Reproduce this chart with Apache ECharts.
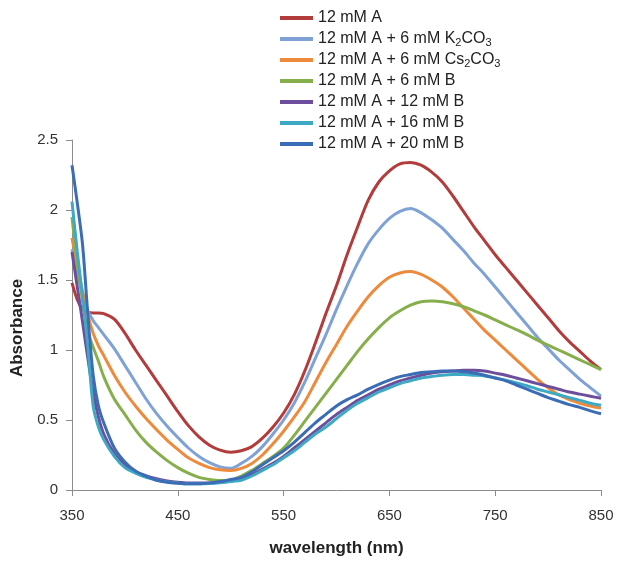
<!DOCTYPE html>
<html>
<head>
<meta charset="utf-8">
<script src="https://cdn.jsdelivr.net/npm/echarts@6/dist/echarts.min.js"></script>
<style>html,body{margin:0;padding:0;background:#fff}#c{width:624px;height:571px}</style>
</head>
<body>
<div id="c"></div>
<script>
var wavelengths = [350,355,360,365,370,375,380,390,400,410,420,430,440,450,460,470,480,490,500,510,520,530,540,550,560,570,580,590,600,610,620,630,640,650,660,670,680,690,700,710,720,730,740,750,760,770,780,790,800,810,820,830,840,850];

var seriesNames = ["12 mM A","12 mM A + 6 mM K2CO3","12 mM A + 6 mM Cs2CO3","12 mM A + 6 mM B","12 mM A + 12 mM B","12 mM A + 16 mM B","12 mM A + 20 mM B"];

var a12 = [1.48,1.36,1.29,1.27,1.265,1.265,1.26,1.22,1.12,1.00,0.89,0.78,0.67,0.56,0.46,0.38,0.32,0.285,0.27,0.28,0.31,0.37,0.45,0.55,0.68,0.85,1.05,1.26,1.46,1.68,1.88,2.07,2.20,2.28,2.33,2.34,2.32,2.27,2.20,2.10,1.99,1.88,1.78,1.68,1.59,1.50,1.41,1.32,1.23,1.14,1.06,0.99,0.92,0.86];
var aK2CO3 = [1.72,1.55,1.40,1.28,1.21,1.16,1.11,1.01,0.89,0.77,0.65,0.545,0.455,0.375,0.30,0.24,0.195,0.165,0.155,0.19,0.24,0.31,0.40,0.50,0.62,0.77,0.94,1.11,1.29,1.46,1.62,1.76,1.86,1.94,1.99,2.01,1.98,1.93,1.87,1.79,1.71,1.62,1.54,1.45,1.36,1.27,1.18,1.09,1.01,0.93,0.86,0.79,0.73,0.67];
var aCs2CO3 = [1.80,1.60,1.42,1.25,1.12,1.03,0.96,0.82,0.70,0.60,0.51,0.43,0.355,0.29,0.23,0.19,0.16,0.145,0.14,0.155,0.19,0.25,0.33,0.42,0.52,0.63,0.77,0.91,1.04,1.17,1.28,1.38,1.46,1.52,1.55,1.56,1.54,1.50,1.45,1.38,1.30,1.22,1.14,1.07,1.00,0.93,0.86,0.79,0.73,0.68,0.645,0.62,0.60,0.585];
var aB6 = [1.95,1.62,1.35,1.13,1.02,0.92,0.81,0.65,0.54,0.43,0.34,0.27,0.21,0.16,0.12,0.09,0.075,0.067,0.07,0.10,0.14,0.19,0.24,0.30,0.39,0.49,0.59,0.69,0.79,0.89,0.99,1.08,1.16,1.23,1.28,1.32,1.345,1.35,1.345,1.33,1.31,1.28,1.25,1.215,1.18,1.145,1.11,1.07,1.035,1.00,0.965,0.93,0.895,0.86];
var aB12 = [1.70,1.45,1.20,0.94,0.70,0.52,0.40,0.26,0.18,0.13,0.10,0.08,0.065,0.055,0.05,0.05,0.05,0.055,0.065,0.08,0.11,0.15,0.19,0.24,0.30,0.36,0.42,0.48,0.54,0.59,0.64,0.68,0.72,0.75,0.78,0.80,0.82,0.835,0.845,0.85,0.855,0.855,0.85,0.835,0.82,0.80,0.78,0.76,0.74,0.72,0.70,0.685,0.67,0.655];
var aB16 = [2.06,1.70,1.38,1.02,0.60,0.45,0.36,0.24,0.16,0.12,0.09,0.072,0.058,0.05,0.045,0.045,0.047,0.052,0.06,0.07,0.10,0.14,0.18,0.23,0.28,0.34,0.40,0.45,0.51,0.57,0.62,0.66,0.70,0.73,0.76,0.78,0.80,0.81,0.82,0.825,0.825,0.82,0.815,0.80,0.785,0.765,0.745,0.72,0.70,0.68,0.66,0.64,0.62,0.605];
var aB20 = [2.32,2.05,1.75,1.25,0.82,0.60,0.48,0.30,0.20,0.135,0.10,0.07,0.055,0.048,0.044,0.044,0.05,0.06,0.075,0.09,0.13,0.18,0.23,0.28,0.34,0.41,0.48,0.54,0.60,0.645,0.68,0.72,0.755,0.785,0.81,0.825,0.84,0.845,0.85,0.85,0.845,0.835,0.82,0.80,0.78,0.75,0.72,0.69,0.66,0.635,0.61,0.59,0.565,0.545];

var xTicks = [350,450,550,650,750,850];
var yTicks = [0,0.5,1,1.5,2,2.5];

var colors = ["#B23C3B","#7FA2D6","#EE8A3C","#86AF4C","#6C4E9C","#3EA9C5","#3B6CB6"];
var allData = [a12,aK2CO3,aCs2CO3,aB6,aB12,aB16,aB20];

function pairs(arr){ return wavelengths.map(function(w,i){ return [w, arr[i]]; }); }

var legendLabels = {
  "12 mM A": "12 mM A",
  "12 mM A + 6 mM K2CO3": "12 mM A + 6 mM K{s|2}CO{s|3}",
  "12 mM A + 6 mM Cs2CO3": "12 mM A + 6 mM Cs{s|2}CO{s|3}",
  "12 mM A + 6 mM B": "12 mM A + 6 mM B",
  "12 mM A + 12 mM B": "12 mM A + 12 mM B",
  "12 mM A + 16 mM B": "12 mM A + 16 mM B",
  "12 mM A + 20 mM B": "12 mM A + 20 mM B"
};

var chart = echarts.init(document.getElementById('c'), null, {renderer:'canvas'});
var font = "Liberation Sans";
chart.setOption({
  animation: false,
  backgroundColor: '#ffffff',
  grid: {left: 72, right: 23, top: 140, bottom: 81},
  legend: {
    orient: 'vertical', left: 275, top: 4, itemGap: 3,
    icon: 'rect', itemWidth: 33, itemHeight: 4,
    data: seriesNames,
    formatter: function(n){ return legendLabels[n]; },
    textStyle: {fontFamily: font, fontSize: 16, color: '#222', lineHeight: 18,
      rich: {s: {fontFamily: font, fontSize: 11, color: '#222', verticalAlign: 'bottom', lineHeight: 18, padding: [7,0,0,0]}}}
  },
  xAxis: {
    type: 'value', min: 350, max: 850, interval: 100,
    name: 'wavelength (nm)', nameLocation: 'middle', nameGap: 50,
    nameTextStyle: {fontFamily: font, fontSize: 17, fontWeight: 'bold', color: '#222'},
    axisLine: {lineStyle: {color: '#8c8c8c', width: 1}},
    axisTick: {show: true, length: 6, lineStyle: {color: '#8c8c8c'}},
    axisLabel: {fontFamily: font, fontSize: 15, color: '#333', margin: 18},
    splitLine: {show: false}
  },
  yAxis: {
    type: 'value', min: 0, max: 2.5, interval: 0.5,
    name: 'Absorbance', nameLocation: 'middle', nameGap: 40, nameRotate: 90,
    nameTextStyle: {fontFamily: font, fontSize: 17, fontWeight: 'bold', color: '#222', padding: [0,26,0,0]},
    axisLine: {show: true, lineStyle: {color: '#8c8c8c', width: 1}},
    axisTick: {show: true, length: 6, lineStyle: {color: '#8c8c8c'}},
    axisLabel: {fontFamily: font, fontSize: 15, color: '#333', margin: 14,
      formatter: function(v){ return String(v); }},
    splitLine: {show: false}
  },
  series: seriesNames.map(function(n, i){
    return {
      name: n, type: 'line', data: pairs(allData[i]),
      smooth: 0.3, showSymbol: false, symbol: 'none',
      lineStyle: {color: colors[i], width: 3},
      itemStyle: {color: colors[i]}
    };
  })
});
</script>
</body>
</html>
